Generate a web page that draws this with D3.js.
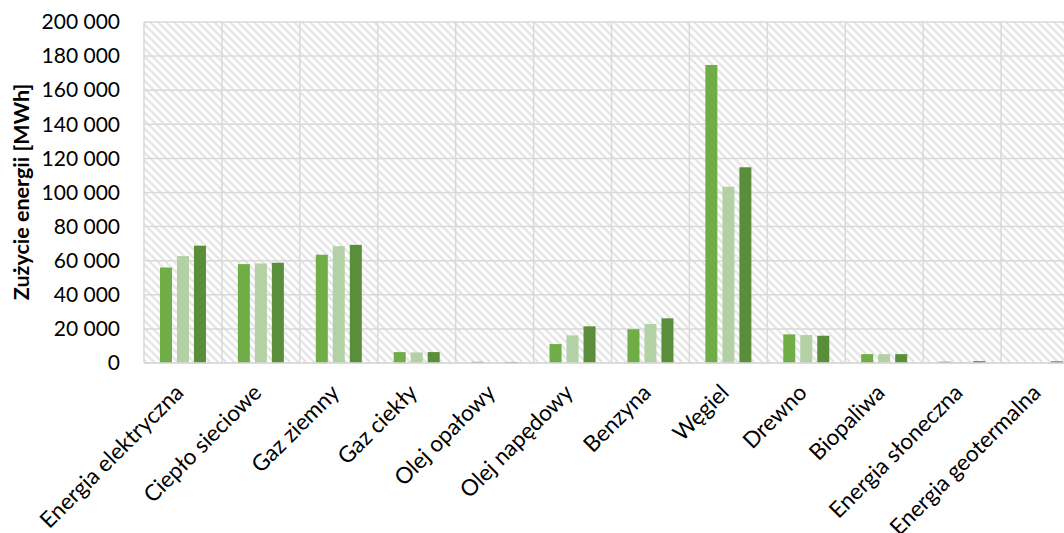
<!DOCTYPE html>
<html><head><meta charset="utf-8">
<script src="https://cdn.jsdelivr.net/npm/d3@7/dist/d3.min.js"></script>
<style>
html,body{margin:0;padding:0;background:#fff;overflow:hidden}
text{font-family:Lato,"Noto Sans",sans-serif;fill:#000}
</style></head>
<body>
<script>
const categories = ["Energia elektryczna","Ciepło sieciowe","Gaz ziemny","Gaz ciekły","Olej opałowy","Olej napędowy","Benzyna","Węgiel","Drewno","Biopaliwa","Energia słoneczna","Energia geotermalna"];
const series1 = [56000, 58000, 63500, 6400, 700, 11100, 19800, 174800, 16800, 5200, 800, 0];
const series2 = [62700, 58400, 68500, 6200, 100, 16200, 22900, 103400, 16400, 5200, 600, 0];
const series3 = [68800, 58800, 69300, 6400, 600, 21500, 26200, 114800, 16000, 5200, 1100, 1000];
const yTicks = [0, 20000, 40000, 60000, 80000, 100000, 120000, 140000, 160000, 180000, 200000];
const yTitle = "Zużycie energii [MWh]";
const colors = ["#70ad47", "#b4d1a6", "#5b8e3b"];

const W = 1064, H = 533;
const m = {left:144, top:22, right:1079, bottom:363};
const svg = d3.select("body").append("svg").attr("width", W).attr("height", H);

const defs = svg.append("defs");
const pat = defs.append("pattern").attr("id","hatch").attr("patternUnits","userSpaceOnUse")
  .attr("width",8).attr("height",8);
pat.append("rect").attr("width",8).attr("height",8).attr("fill","#fff");
pat.append("path").attr("d","M-2,-2 L10,10 M-2,6 L2,10 M6,-2 L10,2")
  .attr("stroke","#e6e6e6").attr("stroke-width",2.4);

const x = d3.scaleBand().domain(categories).range([m.left, m.right]).paddingInner(0).paddingOuter(0);
const x1 = d3.scaleBand().domain([0,1,2]).range([-25.5, 25.5]).paddingInner(0.294).paddingOuter(0.147);
const y = d3.scaleLinear().domain([0, 200000]).range([m.bottom, m.top]);

svg.append("rect").attr("x", m.left).attr("y", m.top).attr("width", m.right-m.left).attr("height", m.bottom-m.top)
  .attr("fill","url(#hatch)");

// grid
const g = svg.append("g");
g.selectAll("line.h").data(yTicks).enter().append("line")
  .attr("x1", m.left).attr("x2", m.right).attr("y1", d=>y(d)).attr("y2", d=>y(d))
  .attr("stroke","#d9d9d9").attr("stroke-width",1.5);
const vlines = categories.map(c=>x(c)).concat([m.right]);
g.selectAll("line.v").data(vlines).enter().append("line")
  .attr("x1", d=>d).attr("x2", d=>d).attr("y1", m.top).attr("y2", m.bottom)
  .attr("stroke","#d9d9d9").attr("stroke-width",1.5);

// bars
const allSeries = [series1, series2, series3];
allSeries.forEach((s, si) => {
  svg.append("g").selectAll("rect").data(s).enter().append("rect")
    .attr("x", (d,i)=> x(categories[i]) + x.bandwidth()/2 + x1(si))
    .attr("width", x1.bandwidth())
    .attr("y", d=> y(d))
    .attr("height", d=> y(0) - y(d))
    .attr("fill", colors[si]);
});

// axis line
svg.append("line").attr("x1", m.left).attr("x2", m.right).attr("y1", y(0)).attr("y2", y(0))
  .attr("stroke","#d9d9d9").attr("stroke-width",1.5);

// y axis
const loc = d3.formatLocale({decimal:",", thousands:" ", grouping:[3], currency:["",""]});
const fmt = loc.format(",.0f");
const ya = svg.append("g").attr("transform",`translate(${m.left},0)`)
  .call(d3.axisLeft(y).tickValues(yTicks).tickFormat(fmt).tickSize(0).tickPadding(24));
ya.select(".domain").remove();
ya.selectAll("text").style("font-size","21px").style("font-family","Lato");

// x axis
const xa = svg.append("g").attr("transform",`translate(0,${m.bottom})`)
  .call(d3.axisBottom(x).tickSize(0).tickPadding(0));
xa.select(".domain").remove();
xa.selectAll("text")
  .attr("text-anchor","end")
  .attr("dy","0")
  .attr("y",0)
  .attr("transform","translate(2,31) rotate(-45)")
  .style("font-size","22.5px").style("font-family","Lato");

// y title
svg.append("text").attr("transform","translate(29,192) rotate(-90)")
  .attr("text-anchor","middle").style("font-size","21.5px").style("font-weight","bold")
  .text(yTitle);
</script>
</body></html>
